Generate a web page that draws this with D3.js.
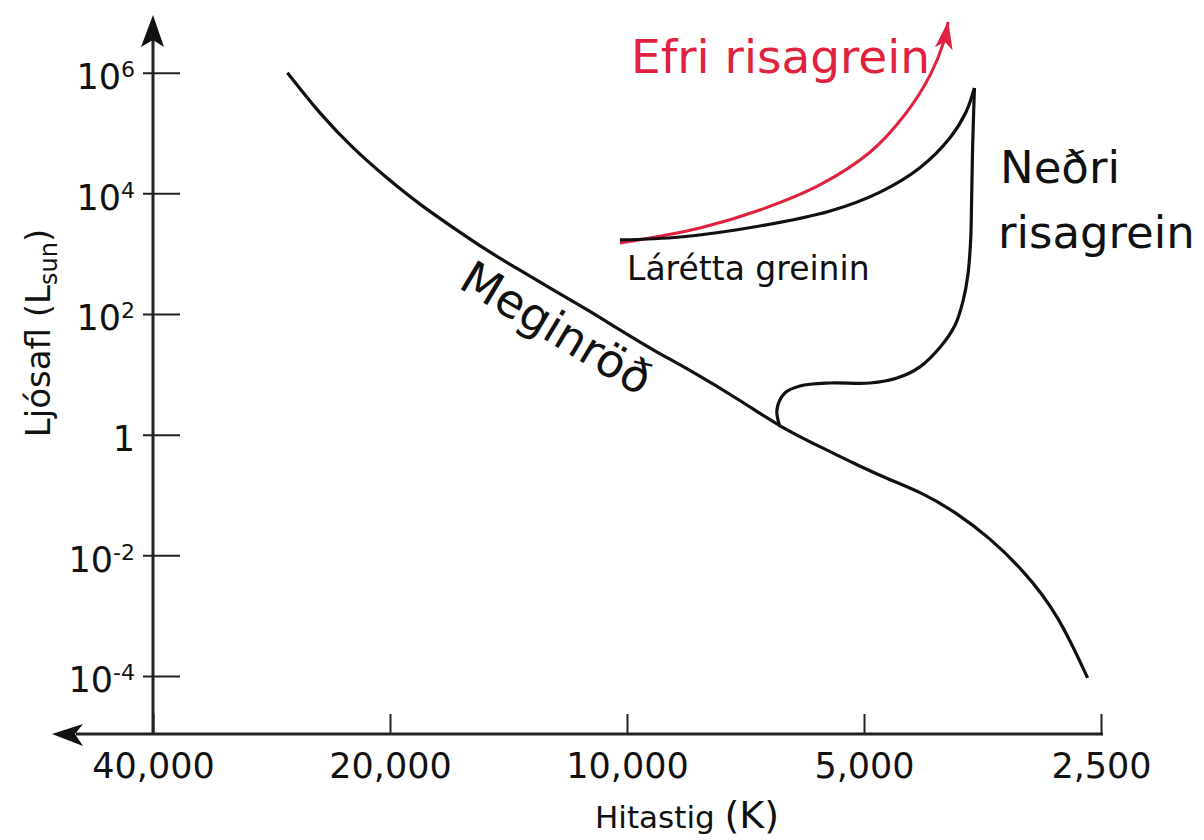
<!DOCTYPE html>
<html>
<head>
<meta charset="utf-8">
<script src="https://cdn.jsdelivr.net/npm/d3@7"></script>
<style>
  body { margin: 0; background: #fff; }
  text { font-family: "DejaVu Sans", Verdana, sans-serif; }
</style>
</head>
<body>
<div id="chart"></div>
<script>
// Axis ticks
var tempTicks = [40000, 20000, 10000, 5000, 2500];
var lumTicks = [1e6, 1e4, 1e2, 1, 1e-2, 1e-4];

// Main sequence (Meginröð): temperature (K), luminosity (Lsun)
var msTemp = [27000, 24500, 22300, 20200, 18300, 16600, 15100, 13700, 12400, 11200, 10200, 9270, 8320, 7190, 6390, 5640, 5100, 4630, 4210, 3810, 3460, 3140, 2840, 2600];
var msLum = [1.0e6, 2.0e5, 5.6e4, 1.8e4, 6400, 2670, 1150, 537, 250, 116, 54, 25.3, 11.8, 3.76, 1.34, 0.60, 0.314, 0.177, 0.108, 0.0503, 0.0194, 0.00571, 0.00111, 9.3e-5];

// Subgiant loop + lower giant branch (Neðri risagrein)
var rgbTemp = [6390, 6450, 6300, 6030, 5520, 4910, 4540, 4250, 4000, 3830, 3740, 3690, 3660, 3650, 3640, 3620];
var rgbLum = [1.34, 2.56, 4.91, 6.41, 7.19, 7.19, 8.7, 13.2, 28.4, 65.8, 171, 443, 1690, 7760, 52300, 557000];

// Horizontal branch (Lárétta greinin)
var hbTemp = [10210, 8560, 6780, 5520, 4770, 4250, 3890, 3710, 3620];
var hbLum = [1690, 1890, 2880, 5100, 10500, 26300, 82700, 223000, 557000];

// Upper giant branch (Efri risagrein)
var agbTemp = [10210, 8080, 6780, 5690, 4910, 4440, 4120, 3960, 3910];
var agbLum = [1500, 2670, 5300, 13800, 48500, 199000, 916000, 3.24e6, 6.9e6];

var width = 1204;
var height = 840;
var red = "#e0223f";
var axisColor = "#222";

var x = d3.scaleLog().domain([40000, 2500]).range([153, 1101]);
var y = d3.scaleLog().domain([1e-4, 1e6]).range([676, 72.7]);
var xAxisY = 734;
var yAxisX = x(40000);

var svg = d3.select("#chart")
  .append("svg")
  .attr("width", width)
  .attr("height", height);

// arrow head for the red branch
svg.append("defs").append("marker")
  .attr("id", "redArrow")
  .attr("viewBox", "0 0 28 18")
  .attr("refX", 27)
  .attr("refY", 9)
  .attr("markerWidth", 28)
  .attr("markerHeight", 18)
  .attr("markerUnits", "userSpaceOnUse")
  .attr("orient", "auto")
  .append("path")
  .attr("d", "M0,0 L28,9 L0,18 L7,9 Z")
  .attr("fill", red);

// x axis (ticks pointing up)
var xAxis = d3.axisBottom(x)
  .tickValues(tempTicks)
  .tickSizeInner(-20)
  .tickSizeOuter(0)
  .tickPadding(19)
  .tickFormat(d3.format(","));

var gx = svg.append("g")
  .attr("transform", "translate(0," + xAxisY + ")")
  .call(xAxis);
gx.select(".domain").remove();
gx.selectAll(".tick line").attr("stroke", axisColor).attr("stroke-width", 2);
gx.selectAll(".tick text")
  .attr("fill", "#111")
  .style("font-size", "35px")
  .style("font-family", "DejaVu Sans, sans-serif");

// y axis (ticks crossing the line)
var yAxis = d3.axisLeft(y)
  .tickValues(lumTicks)
  .tickSizeInner(-27)
  .tickSizeOuter(0)
  .tickPadding(18)
  .tickFormat(function() { return ""; });

var gy = svg.append("g")
  .attr("transform", "translate(" + yAxisX + ",0)")
  .call(yAxis);
gy.select(".domain").remove();
gy.selectAll(".tick line")
  .attr("x1", -10)
  .attr("stroke", axisColor)
  .attr("stroke-width", 2);
gy.selectAll(".tick text")
  .attr("dy", "0.45em")
  .attr("fill", "#111")
  .style("font-size", "35px")
  .style("font-family", "DejaVu Sans, sans-serif")
  .each(function(d) {
    var e = Math.round(Math.log10(d));
    var t = d3.select(this);
    if (e === 0) { t.text("1"); return; }
    t.append("tspan").text("10");
    t.append("tspan").attr("dy", -12).style("font-size", "22px").text(e);
  });

// axis lines with arrow heads
svg.append("line")
  .attr("x1", yAxisX).attr("y1", xAxisY)
  .attr("x2", yAxisX).attr("y2", 40)
  .attr("stroke", axisColor).attr("stroke-width", 3);
svg.append("path")
  .attr("d", "M" + yAxisX + ",15 L" + (yAxisX + 11) + ",47 L" + yAxisX + ",40 L" + (yAxisX - 12) + ",47 Z")
  .attr("fill", "#111");

svg.append("line")
  .attr("x1", x(2500) + 2).attr("y1", xAxisY)
  .attr("x2", 76).attr("y2", xAxisY)
  .attr("stroke", axisColor).attr("stroke-width", 3);
svg.append("path")
  .attr("d", "M52," + xAxisY + " L83," + (xAxisY - 10) + " L75," + xAxisY + " L83," + (xAxisY + 12) + " Z")
  .attr("fill", "#111");

// curves
var line = d3.line()
  .x(function(d) { return x(d[0]); })
  .y(function(d) { return y(d[1]); })
  .curve(d3.curveCatmullRom.alpha(0.5));

var smoothLine = d3.line()
  .x(function(d) { return x(d[0]); })
  .y(function(d) { return y(d[1]); })
  .curve(d3.curveBasis);

svg.append("path")
  .datum(d3.zip(agbTemp, agbLum))
  .attr("d", line)
  .attr("fill", "none")
  .attr("stroke", red)
  .attr("stroke-width", 3)
  .attr("marker-end", "url(#redArrow)");

svg.append("path")
  .datum(d3.zip(msTemp, msLum))
  .attr("d", smoothLine)
  .attr("fill", "none")
  .attr("stroke", "#111")
  .attr("stroke-width", 3.2);

[[rgbTemp, rgbLum], [hbTemp, hbLum]].forEach(function(s) {
  svg.append("path")
    .datum(d3.zip(s[0], s[1]))
    .attr("d", line)
    .attr("fill", "none")
    .attr("stroke", "#111")
    .attr("stroke-width", 3.2)
    .attr("stroke-linejoin", "round");
});

// labels
svg.append("text")
  .attr("x", 631).attr("y", 73)
  .attr("fill", red)
  .style("font-size", "47px")
  .text("Efri risagrein");

svg.append("text")
  .attr("x", 1000).attr("y", 183)
  .attr("fill", "#111")
  .style("font-size", "45px")
  .text("Neðri");
svg.append("text")
  .attr("x", 998).attr("y", 248)
  .attr("fill", "#111")
  .style("font-size", "45px")
  .text("risagrein");

svg.append("text")
  .attr("x", 627).attr("y", 280)
  .attr("fill", "#111")
  .style("font-size", "33px")
  .text("Lárétta greinin");

svg.append("text")
  .attr("transform", "translate(457,287) rotate(31)")
  .attr("fill", "#111")
  .style("font-size", "46px")
  .text("Meginröð");

// axis titles
var xt = svg.append("text")
  .attr("x", 595).attr("y", 828)
  .attr("fill", "#111")
  .style("font-size", "31px");
xt.append("tspan").text("Hitastig ");
xt.append("tspan").style("font-size", "38px").text("(K)");

var yt = svg.append("text")
  .attr("transform", "translate(50,333) rotate(-90)")
  .attr("text-anchor", "middle")
  .attr("fill", "#111")
  .style("font-size", "34px");
yt.append("tspan").text("Ljósafl (L");
yt.append("tspan").attr("dy", 7).style("font-size", "24px").text("sun");
yt.append("tspan").attr("dy", -7).text(")");
</script>
</body>
</html>
